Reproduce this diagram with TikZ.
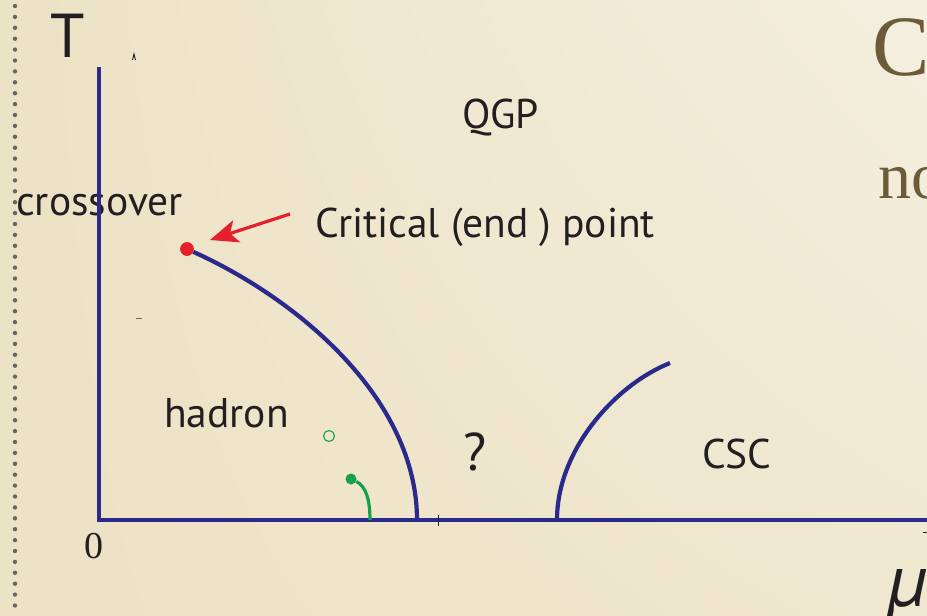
\documentclass[tikz,border=0pt]{standalone}
\usepackage{fontspec}
\setmainfont{PT Sans}
\newfontfamily\slideserif{Liberation Serif}
\usetikzlibrary{arrows.meta,positioning,shadings}
\definecolor{cBgL} {HTML}{ECE2C5}
\definecolor{cBgR} {HTML}{F4EFDF}
\definecolor{cAxis}{HTML}{2A2A8C}
\definecolor{cCep} {HTML}{E5202A}
\definecolor{cGrn} {HTML}{17A04A}
\definecolor{cInk} {HTML}{231F20}
\definecolor{cSlide}{HTML}{6C5B38}
\definecolor{cDots}{HTML}{68665F}
\tikzset{
  lbl/.style   ={text=cInk,inner sep=0pt,anchor=base west,
                 font=\fontsize{41.5}{46}\selectfont},
  axis/.style  ={draw=cAxis,line width=4.5pt,line join=miter},
  pline/.style ={draw=cAxis,line width=4.2pt},
  gline/.style ={draw=cGrn,line width=3.2pt},
  cep/.style   ={circle,fill=cCep,inner sep=0pt,minimum size=13.5pt},
  gdot/.style  ={circle,fill=cGrn,inner sep=0pt,minimum size=11pt},
  gring/.style ={circle,draw=cGrn,line width=1.1pt,inner sep=0pt,minimum size=11pt},
  ptr/.style   ={-{Stealth[length=28pt,width=23pt,inset=7pt]},draw=cCep,line width=3.2pt},
  speck/.style ={draw=cInk,line width=0.9pt},
  slide/.style ={text=cSlide,inner sep=0pt,anchor=base west,font=\slideserif},
}

\begin{document}
\begin{tikzpicture}[x=1pt,y=-1pt]
\clip (0,0) rectangle (927,616);
\shade[upper left=cBgL,lower left=cBgL,lower right=cBgL!60!cBgR,upper right=cBgR]
  (0,0) rectangle (927,616);

% left page margin dots
\foreach \y in {6,16.9,...,616}
  \fill[cDots] (15,\y) circle (2.2);

% slide title, cut by the page edge
\node[slide,font=\slideserif\fontsize{86}{90}\selectfont] (ttl) at (872,75) {C};
\node[slide,font=\slideserif\fontsize{66}{70}\selectfont] (sub) at (878,198) {no};

% labels
\node[lbl,font=\fontsize{62}{66}\selectfont] (tlab) at (50,57) {T};
\node[lbl] (qgp) at (462,128) {QGP};
\node[lbl] (cross) at (16,215) {crossover};
\node[lbl] (cpt) at (315,237) {Critical (end ) point};
\node[lbl] (had) at (164,427) {hadron};
\node[lbl,font=\fontsize{53}{56}\selectfont] (qm) at (463,470) {?};
\node[lbl] (csc) at (702,468) {CSC};
\node[lbl,font=\slideserif\fontsize{38}{40}\selectfont] (zero) at (84,558) {0};
\node[lbl,font=\itshape\fontsize{74}{78}\selectfont] (mu) at (887,606) {µ};

% axes
\coordinate (tTop) at (99,67);
\coordinate (orig) at (99,520);
\coordinate (muEnd) at (930,520);
\draw[axis] (tTop) -- (orig) -- (muEnd);

% stray marks
\draw[speck] (132.5,60) -- (134,54) -- (135.5,60);
\draw[speck,draw=cDots,line width=1.4pt] (136,318.5) -- (142,318.5);
\draw[speck] (438,515) -- (438,526);
\draw[speck] (923,532) -- (927,532);

% phase boundaries
\node[cep] (cep) at (187,249) {};
\coordinate (hqEnd) at (417,520);
\draw[pline] (cep) .. controls (300,300) and (417,400) .. (hqEnd);
\coordinate (cscFoot) at (557,520);
\coordinate (cscTop) at (670,363);
\draw[pline] (cscFoot) .. controls (557,450) and (615,385) .. (cscTop);
\node[cep] at (cep) {};

% green line and points
\node[gring] (ring) at (329,436) {};
\node[gdot] (gpt) at (351,479) {};
\coordinate (gFoot) at (370,520);
\draw[gline] (gpt) .. controls (366,486) and (370,500) .. (gFoot);

% arrow to the critical point
\coordinate (ptrTail) at (290,214);
\coordinate (ptrTip) at (210,240);
\draw[ptr] (ptrTail) -- (ptrTip);
\end{tikzpicture}
\end{document}
